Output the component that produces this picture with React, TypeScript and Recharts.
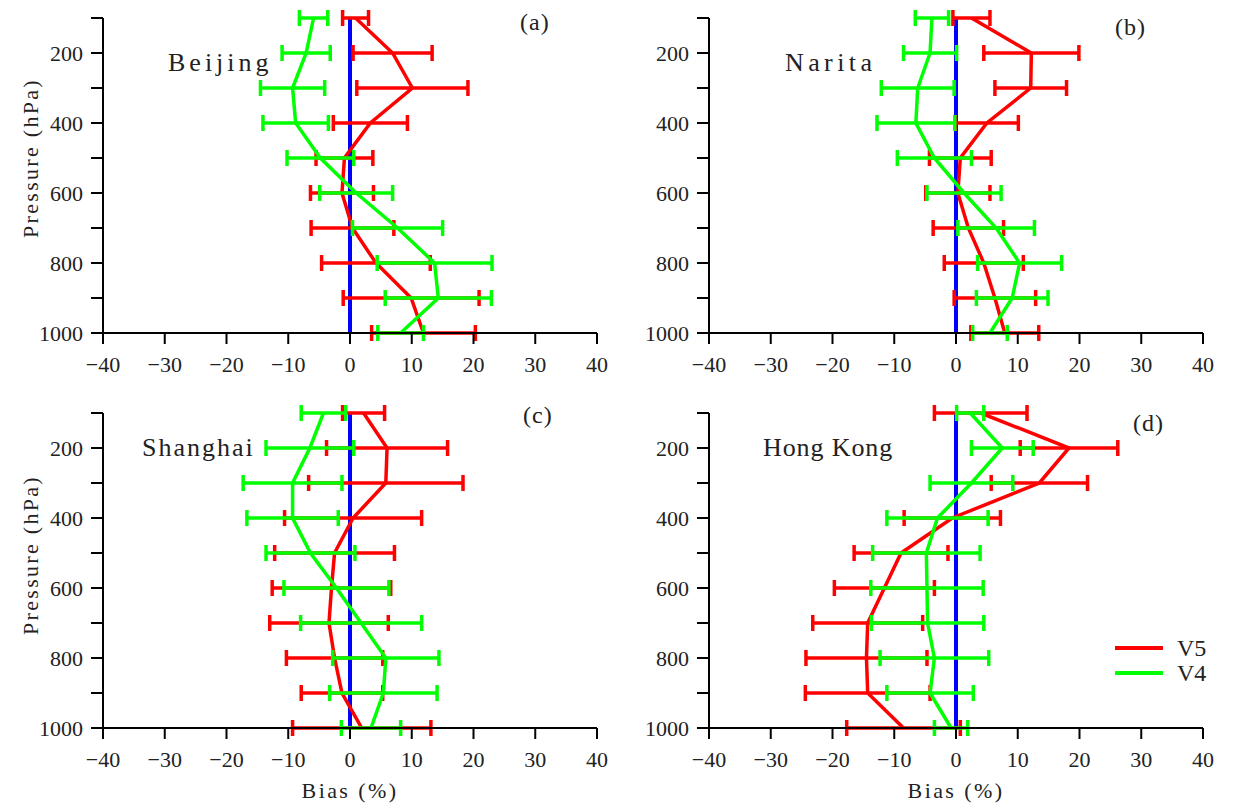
import React from 'react';
import { LineChart, Line, XAxis, YAxis, ErrorBar, ReferenceLine, Legend } from 'recharts';

const levels = [100, 200, 300, 400, 500, 600, 700, 800, 900, 1000];
const xTicks = [-40, -30, -20, -10, 0, 10, 20, 30, 40];

// Beijing (a)
const beijingV5 = [0.9, 6.9, 10.1, 3.3, -0.9, -1.3, 0.4, 4.2, 9.9, 11.9];
const beijingV5Err = [2.1, 6.4, 9.0, 6.0, 4.6, 5.1, 6.7, 8.8, 11.0, 8.4];
const beijingV4 = [-5.9, -7.1, -9.3, -8.8, -4.8, 1.0, 7.7, 13.7, 14.3, 8.2];
const beijingV4Err = [2.3, 3.9, 5.2, 5.3, 5.4, 5.9, 7.3, 9.3, 8.6, 3.7];

// Narita (b)
const naritaV5 = [2.5, 12.2, 12.1, 5.0, 0.7, 0.3, 2.0, 4.5, 6.3, 7.9];
const naritaV5Err = [3.0, 7.7, 5.8, 5.1, 5.0, 5.2, 5.7, 6.4, 6.6, 5.5];
const naritaV4 = [-3.9, -4.2, -6.2, -6.5, -3.5, 1.3, 6.5, 10.3, 9.1, 5.5];
const naritaV4Err = [2.7, 4.3, 5.9, 6.3, 6.0, 6.0, 6.2, 6.8, 5.8, 2.8];

// Shanghai (c)
const shanghaiV5 = [2.2, 6.0, 5.8, 0.5, -2.5, -3.0, -3.4, -2.5, -1.3, 1.9];
const shanghaiV5Err = [3.4, 9.8, 12.5, 11.1, 9.7, 9.6, 9.6, 7.8, 6.6, 11.2];
const shanghaiV4 = [-4.3, -6.5, -9.3, -9.3, -6.4, -2.2, 1.8, 5.8, 5.4, 3.4];
const shanghaiV4Err = [3.6, 7.1, 8.0, 7.4, 7.2, 8.5, 9.8, 8.6, 8.7, 4.8];

// Hong Kong (d)
const hongKongV5 = [4.0, 18.3, 13.5, -0.6, -8.9, -11.6, -14.3, -14.5, -14.3, -8.5];
const hongKongV5Err = [7.5, 7.9, 7.8, 7.8, 7.6, 8.1, 8.9, 9.8, 10.1, 9.2];
const hongKongV4 = [2.3, 7.5, 2.5, -3.0, -4.8, -4.7, -4.6, -3.5, -4.2, -0.8];
const hongKongV4Err = [2.2, 5.0, 6.7, 8.2, 8.7, 9.1, 9.1, 8.8, 7.0, 2.7];

const seriesNames = ['V5', 'V4'];

const FONT = "'Liberation Serif', 'DejaVu Serif', serif";
const RED = '#ff0000';
const GREEN = '#00ff00';
const BLUE = '#0000ff';
const TEXT = '#222';

type PanelProps = {
  left: number;
  top: number;
  v5: number[];
  v5e: number[];
  v4: number[];
  v4e: number[];
  legend?: boolean;
};

const fmtX = (v: number) => (v < 0 ? '\u2212' + Math.abs(v) : String(v));
const fmtY = (v: number) => (v % 200 === 0 ? String(v) : '');

const renderLegend = (props: any) => {
  const payload = [...(props.payload || [])].sort(
    (a: any, b: any) => seriesNames.indexOf(a.value) - seriesNames.indexOf(b.value)
  );
  return (
    <svg width={140} height={50} style={{ display: 'block', overflow: 'visible' }}>
      {payload.map((p: any, i: number) => (
        <g key={i}>
          <line x1={0} y1={10 + i * 25} x2={48} y2={10 + i * 25} stroke={p.color} strokeWidth={4} />
          <text
            x={62}
            y={10 + i * 25}
            dominantBaseline="central"
            fontFamily={FONT}
            fontSize={24}
            fill={TEXT}
          >
            {p.value}
          </text>
        </g>
      ))}
    </svg>
  );
};

const tickStyle = { fill: TEXT, fontSize: 22, fontFamily: FONT };

function Panel({ left, top, v5, v5e, v4, v4e, legend }: PanelProps) {
  const data = levels.map((p, i) => ({ p, v5: v5[i], v5e: v5e[i], v4: v4[i], v4e: v4e[i] }));
  return (
    <div style={{ position: 'absolute', left, top, fontFamily: FONT }}>
      <LineChart
        width={620}
        height={400}
        data={data}
        layout="vertical"
        margin={{ top: 18, right: 23, bottom: 27, left: 33 }}
      >
        <XAxis
          type="number"
          domain={[-40, 40]}
          ticks={xTicks}
          interval={0}
          allowDataOverflow
          height={40}
          tickSize={11}
          tickMargin={12}
          tickFormatter={fmtX}
          axisLine={{ stroke: '#000', strokeWidth: 2 }}
          tickLine={{ stroke: '#000', strokeWidth: 2 }}
          tick={tickStyle}
        />
        <YAxis
          type="number"
          dataKey="p"
          domain={[100, 1000]}
          ticks={levels}
          interval={0}
          allowDataOverflow
          width={70}
          tickSize={12}
          tickMargin={8}
          tickFormatter={fmtY}
          axisLine={{ stroke: '#000', strokeWidth: 2 }}
          tickLine={{ stroke: '#000', strokeWidth: 2 }}
          tick={tickStyle}
        />
        <ReferenceLine x={0} stroke={BLUE} strokeWidth={4} ifOverflow="visible" />
        <Line
          dataKey="v5"
          name="V5"
          type="linear"
          stroke={RED}
          strokeWidth={3.5}
          dot={false}
          activeDot={false}
          isAnimationActive={false}
        >
          <ErrorBar dataKey="v5e" direction="x" width={8} stroke={RED} strokeWidth={3.5} isAnimationActive={false} />
        </Line>
        <Line
          dataKey="v4"
          name="V4"
          type="linear"
          stroke={GREEN}
          strokeWidth={3.5}
          dot={false}
          activeDot={false}
          isAnimationActive={false}
        >
          <ErrorBar dataKey="v4e" direction="x" width={8} stroke={GREEN} strokeWidth={3.5} isAnimationActive={false} />
        </Line>
        {legend && (
          <Legend
            layout="vertical"
            align="center"
            verticalAlign="middle"
            content={renderLegend}
            wrapperStyle={{ left: 509, top: 243, width: 140, height: 50 }}
          />
        )}
      </LineChart>
    </div>
  );
}

export default function App() {
  return (
    <div
      style={{
        position: 'absolute',
        left: 0,
        top: 0,
        width: 1243,
        height: 808,
        background: '#fff',
        overflow: 'hidden',
        fontFamily: FONT,
      }}
    >
      <style>{`.recharts-text, .recharts-cartesian-axis-tick-value, .recharts-wrapper text { font-family: 'Liberation Serif', 'DejaVu Serif', serif !important; }`}</style>
      <Panel left={0} top={0} v5={beijingV5} v5e={beijingV5Err} v4={beijingV4} v4e={beijingV4Err} />
      <Panel left={606} top={0} v5={naritaV5} v5e={naritaV5Err} v4={naritaV4} v4e={naritaV4Err} />
      <Panel left={0} top={395} v5={shanghaiV5} v5e={shanghaiV5Err} v4={shanghaiV4} v4e={shanghaiV4Err} />
      <Panel left={606} top={395} v5={hongKongV5} v5e={hongKongV5Err} v4={hongKongV4} v4e={hongKongV4Err} legend />
      <svg
        width={1243}
        height={808}
        style={{ position: 'absolute', left: 0, top: 0, pointerEvents: 'none' }}
        fontFamily={FONT}
        fill={TEXT}
      >
        <text x={30} y={158} fontSize={22} letterSpacing={2.3} textAnchor="middle" dominantBaseline="central" transform="rotate(-90 30 158)">
          Pressure (hPa)
        </text>
        <text x={30} y={555} fontSize={22} letterSpacing={2.3} textAnchor="middle" dominantBaseline="central" transform="rotate(-90 30 555)">
          Pressure (hPa)
        </text>
        <text x={350} y={790} fontSize={22} letterSpacing={2.4} textAnchor="middle" dominantBaseline="central">
          Bias (%)
        </text>
        <text x={956} y={790} fontSize={22} letterSpacing={2.4} textAnchor="middle" dominantBaseline="central">
          Bias (%)
        </text>
        <text x={168} y={62} fontSize={26} letterSpacing={4} dominantBaseline="central">Beijing</text>
        <text x={785} y={62} fontSize={26} letterSpacing={4.4} dominantBaseline="central">Narita</text>
        <text x={142} y={447} fontSize={26} letterSpacing={2} dominantBaseline="central">Shanghai</text>
        <text x={763} y={447} fontSize={26} letterSpacing={0.9} dominantBaseline="central">Hong Kong</text>
        <text x={520} y={22} fontSize={24} letterSpacing={1} dominantBaseline="central">(a)</text>
        <text x={1115} y={27} fontSize={24} letterSpacing={1} dominantBaseline="central">(b)</text>
        <text x={523} y={415} fontSize={24} letterSpacing={1} dominantBaseline="central">(c)</text>
        <text x={1133} y={423} fontSize={24} letterSpacing={1} dominantBaseline="central">(d)</text>
      </svg>
    </div>
  );
}
